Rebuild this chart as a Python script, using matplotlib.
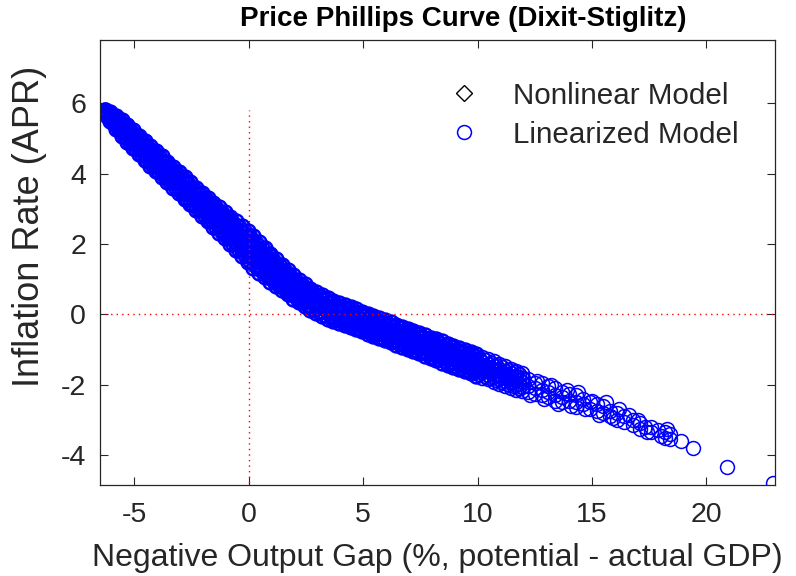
import numpy as np
import matplotlib
matplotlib.use('Agg')
import matplotlib.pyplot as plt

plt.rcParams['font.family'] = ['Liberation Sans', 'DejaVu Sans']
plt.rcParams['axes.unicode_minus'] = False

# dense part of the cloud: output gap -> five inflation readings across the band
gap_dense = [-6.30, -6.05, -5.80, -5.55, -5.30, -5.05, -4.80, -4.55, -4.30, -4.05,
             -3.80, -3.55, -3.30, -3.05, -2.80, -2.55, -2.30, -2.05, -1.80, -1.55,
             -1.30, -1.05, -0.80, -0.55, -0.30, -0.05, 0.20, 0.45, 0.70, 0.95,
             1.20, 1.45, 1.70, 1.95, 2.20, 2.45, 2.70, 2.95, 3.20, 3.45,
             3.70, 3.95, 4.20, 4.45, 4.70, 4.95, 5.20, 5.45, 5.70, 5.95,
             6.20, 6.45, 6.70, 6.95, 7.20, 7.45, 7.70, 7.95, 8.20, 8.45,
             8.70, 8.95, 9.20, 9.45, 9.70, 9.95, 10.20, 10.45, 10.70, 10.95,
             11.20, 11.45, 11.70, 11.95]
infl_dense = [
    [5.82, 5.80, 5.78, 5.76, 5.74], [5.74, 5.68, 5.62, 5.56, 5.50],
    [5.64, 5.55, 5.46, 5.37, 5.28], [5.52, 5.41, 5.30, 5.19, 5.08],
    [5.38, 5.26, 5.14, 5.02, 4.90], [5.23, 5.10, 4.98, 4.86, 4.73],
    [5.08, 4.95, 4.82, 4.69, 4.56], [4.93, 4.80, 4.66, 4.53, 4.39],
    [4.78, 4.64, 4.50, 4.36, 4.22], [4.63, 4.49, 4.35, 4.21, 4.07],
    [4.49, 4.35, 4.20, 4.06, 3.91], [4.34, 4.20, 4.05, 3.91, 3.76],
    [4.20, 4.05, 3.90, 3.75, 3.60], [4.05, 3.90, 3.75, 3.60, 3.45],
    [3.90, 3.75, 3.59, 3.44, 3.28], [3.75, 3.60, 3.44, 3.29, 3.13],
    [3.60, 3.44, 3.28, 3.12, 2.96], [3.45, 3.29, 3.13, 2.97, 2.81],
    [3.31, 3.15, 2.98, 2.82, 2.65], [3.17, 3.00, 2.83, 2.66, 2.49],
    [3.04, 2.86, 2.68, 2.50, 2.32], [2.90, 2.72, 2.53, 2.35, 2.16],
    [2.77, 2.58, 2.38, 2.19, 1.99], [2.64, 2.44, 2.23, 2.03, 1.82],
    [2.51, 2.30, 2.08, 1.87, 1.65], [2.38, 2.16, 1.93, 1.71, 1.48],
    [2.23, 2.01, 1.78, 1.56, 1.33], [2.07, 1.85, 1.63, 1.41, 1.19],
    [1.90, 1.69, 1.48, 1.27, 1.06], [1.73, 1.53, 1.33, 1.13, 0.93],
    [1.57, 1.38, 1.19, 1.00, 0.81], [1.41, 1.23, 1.05, 0.87, 0.69],
    [1.25, 1.08, 0.91, 0.74, 0.57], [1.11, 0.95, 0.78, 0.62, 0.45],
    [0.98, 0.82, 0.66, 0.50, 0.34], [0.85, 0.70, 0.54, 0.39, 0.23],
    [0.73, 0.58, 0.43, 0.28, 0.13], [0.63, 0.48, 0.33, 0.18, 0.03],
    [0.54, 0.40, 0.25, 0.11, -0.04], [0.46, 0.32, 0.17, 0.03, -0.12],
    [0.38, 0.24, 0.10, -0.04, -0.18], [0.32, 0.18, 0.04, -0.10, -0.24],
    [0.26, 0.12, -0.02, -0.16, -0.30], [0.20, 0.06, -0.08, -0.22, -0.36],
    [0.14, 0.00, -0.14, -0.28, -0.42], [0.08, -0.06, -0.20, -0.34, -0.48],
    [0.01, -0.13, -0.27, -0.41, -0.55], [-0.05, -0.19, -0.33, -0.47, -0.61],
    [-0.11, -0.25, -0.39, -0.53, -0.67], [-0.17, -0.31, -0.45, -0.59, -0.73],
    [-0.23, -0.37, -0.51, -0.65, -0.79], [-0.30, -0.44, -0.58, -0.72, -0.86],
    [-0.36, -0.50, -0.64, -0.78, -0.92], [-0.42, -0.56, -0.70, -0.84, -0.98],
    [-0.47, -0.62, -0.76, -0.91, -1.05], [-0.53, -0.68, -0.82, -0.97, -1.11],
    [-0.60, -0.75, -0.89, -1.04, -1.18], [-0.66, -0.81, -0.95, -1.10, -1.24],
    [-0.71, -0.86, -1.01, -1.16, -1.31], [-0.77, -0.92, -1.07, -1.22, -1.37],
    [-0.83, -0.98, -1.13, -1.28, -1.43], [-0.90, -1.05, -1.20, -1.35, -1.50],
    [-0.96, -1.11, -1.26, -1.41, -1.56], [-1.02, -1.17, -1.32, -1.47, -1.62],
    [-1.08, -1.23, -1.38, -1.53, -1.68], [-1.14, -1.29, -1.44, -1.59, -1.74],
    [-1.20, -1.35, -1.50, -1.65, -1.80], [-1.27, -1.42, -1.56, -1.71, -1.85],
    [-1.33, -1.48, -1.62, -1.77, -1.91], [-1.41, -1.55, -1.69, -1.83, -1.97],
    [-1.47, -1.61, -1.75, -1.89, -2.03], [-1.54, -1.68, -1.81, -1.95, -2.08],
    [-1.60, -1.74, -1.87, -2.01, -2.14], [-1.67, -1.80, -1.93, -2.06, -2.19],
]

# second set of readings lying between the columns above, four per column
gap_dense_b = [-6.175, -5.925, -5.675, -5.425, -5.175, -4.925, -4.675, -4.425, -4.175, -3.925,
               -3.675, -3.425, -3.175, -2.925, -2.675, -2.425, -2.175, -1.925, -1.675, -1.425,
               -1.175, -0.925, -0.675, -0.425, -0.175, 0.075, 0.325, 0.575, 0.825, 1.075,
               1.325, 1.575, 1.825, 2.075, 2.325, 2.575, 2.825, 3.075, 3.325, 3.575,
               3.825, 4.075, 4.325, 4.575, 4.825, 5.075, 5.325, 5.575, 5.825, 6.075,
               6.325, 6.575, 6.825, 7.075, 7.325, 7.575, 7.825, 8.075, 8.325, 8.575,
               8.825, 9.075, 9.325, 9.575, 9.825, 10.075, 10.325, 10.575, 10.825, 11.075,
               11.325, 11.575, 11.825]
infl_dense_b = [
    [5.76, 5.72, 5.68, 5.64], [5.65, 5.58, 5.50, 5.43], [5.53, 5.43, 5.33, 5.23],
    [5.39, 5.28, 5.16, 5.05], [5.24, 5.12, 5.00, 4.88], [5.09, 4.96, 4.84, 4.71],
    [4.94, 4.81, 4.67, 4.54], [4.79, 4.65, 4.51, 4.37], [4.64, 4.50, 4.36, 4.22],
    [4.49, 4.35, 4.20, 4.06], [4.34, 4.20, 4.05, 3.91], [4.20, 4.05, 3.90, 3.75],
    [4.05, 3.90, 3.75, 3.60], [3.90, 3.75, 3.59, 3.44], [3.75, 3.59, 3.44, 3.28],
    [3.60, 3.44, 3.28, 3.12], [3.45, 3.29, 3.13, 2.97], [3.30, 3.14, 2.97, 2.81],
    [3.16, 2.99, 2.82, 2.65], [3.02, 2.84, 2.67, 2.49], [2.88, 2.70, 2.51, 2.33],
    [2.74, 2.55, 2.36, 2.17], [2.61, 2.41, 2.21, 2.01], [2.47, 2.26, 2.05, 1.84],
    [2.34, 2.12, 1.89, 1.68], [2.19, 1.97, 1.74, 1.52], [2.04, 1.82, 1.59, 1.37],
    [1.88, 1.66, 1.45, 1.23], [1.71, 1.51, 1.30, 1.10], [1.55, 1.36, 1.16, 0.97],
    [1.40, 1.21, 1.03, 0.84], [1.24, 1.07, 0.89, 0.72], [1.10, 0.93, 0.76, 0.59],
    [0.96, 0.80, 0.64, 0.48], [0.84, 0.68, 0.52, 0.36], [0.71, 0.56, 0.41, 0.26],
    [0.61, 0.46, 0.31, 0.16], [0.51, 0.36, 0.22, 0.07], [0.43, 0.28, 0.14, -0.01],
    [0.35, 0.21, 0.06, -0.08], [0.28, 0.14, 0.00, -0.14], [0.22, 0.08, -0.06, -0.20],
    [0.16, 0.02, -0.12, -0.26], [0.10, -0.04, -0.18, -0.32], [0.04, -0.10, -0.24, -0.38],
    [-0.03, -0.17, -0.31, -0.45], [-0.09, -0.23, -0.37, -0.51], [-0.15, -0.29, -0.43, -0.57],
    [-0.21, -0.35, -0.49, -0.63], [-0.27, -0.41, -0.55, -0.69], [-0.34, -0.47, -0.61, -0.75],
    [-0.40, -0.54, -0.68, -0.82], [-0.46, -0.60, -0.74, -0.88], [-0.52, -0.66, -0.80, -0.94],
    [-0.57, -0.72, -0.86, -1.01], [-0.64, -0.78, -0.93, -1.07], [-0.70, -0.85, -0.99, -1.14],
    [-0.76, -0.91, -1.05, -1.20], [-0.82, -0.97, -1.12, -1.27], [-0.88, -1.03, -1.18, -1.33],
    [-0.94, -1.09, -1.24, -1.39], [-1.01, -1.16, -1.31, -1.46], [-1.07, -1.22, -1.37, -1.52],
    [-1.13, -1.28, -1.43, -1.58], [-1.19, -1.34, -1.49, -1.64], [-1.25, -1.40, -1.55, -1.70],
    [-1.31, -1.46, -1.60, -1.75], [-1.37, -1.52, -1.66, -1.81], [-1.44, -1.58, -1.73, -1.87],
    [-1.51, -1.65, -1.79, -1.93], [-1.57, -1.71, -1.85, -1.99], [-1.64, -1.77, -1.91, -2.04],
    [-1.70, -1.83, -1.97, -2.10],
]

# sparse tail of the cloud
gap_tail = [12.0, 12.2, 12.2, 12.2, 12.3, 12.5, 12.5, 12.5, 12.6, 12.8, 12.8, 12.8, 12.9,
            13.1, 13.1, 13.1, 13.2, 13.4, 13.4, 13.4, 13.5, 13.7, 13.7, 13.7, 13.9,
            14.0, 14.0, 14.1, 14.3, 14.3, 14.3, 14.4, 14.6, 14.6, 14.7, 14.9, 14.9,
            15.0, 15.2, 15.2, 15.3, 15.5, 15.5, 15.6, 15.8, 15.8, 15.9, 16.1, 16.1, 16.2,
            16.4, 16.4, 16.6, 16.8, 16.8, 17.0, 17.1, 17.1, 17.3, 17.4, 17.6, 17.6, 17.9,
            18.0, 18.2, 18.2, 18.3, 18.4, 18.4, 18.9, 19.4, 20.9, 22.9]
infl_tail = [-1.80, -1.85, -2.05, -2.20, -2.30, -1.95, -2.10, -2.25, -1.90, -1.95, -2.15, -2.30, -2.40,
             -2.05, -2.20, -2.35, -2.00, -2.10, -2.30, -2.45, -2.55, -2.20, -2.35, -2.50, -2.15,
             -2.25, -2.45, -2.60, -2.30, -2.50, -2.62, -2.20, -2.40, -2.55, -2.70, -2.50, -2.70,
             -2.45, -2.55, -2.75, -2.85, -2.60, -2.80, -2.50, -2.75, -2.90, -2.95, -2.80, -3.00, -2.70,
             -2.90, -3.05, -2.85, -3.00, -3.15, -3.00, -3.10, -3.25, -3.20, -3.35, -3.20, -3.35, -3.30,
             -3.45, -3.35, -3.50, -3.25, -3.40, -3.55, -3.60, -3.80, -4.35, -4.80]

# nonlinear model series: not visible in the figure, legend entry only
gap_nonlin = []
infl_nonlin = []

gap_core = np.concatenate([np.repeat(gap_dense, 5), np.repeat(gap_dense_b, 4)])
infl_core = np.concatenate([np.ravel(infl_dense), np.ravel(infl_dense_b)])
gap_all = np.concatenate([gap_core, gap_tail])
infl_all = np.concatenate([infl_core, infl_tail])
solid = gap_core < 10

blue = (0, 0, 1)
dark = '#262626'
fig = plt.figure(figsize=(7.96, 5.76), dpi=100)
ax = fig.add_axes([0.1256, 0.158, 0.848, 0.7726])

ax.plot(gap_nonlin, infl_nonlin, 'D', mfc='none', mec='k', ms=8, mew=1.0,
        ls='none', label='Nonlinear Model')
ax.plot(gap_tail, infl_tail, 'o', mfc='none', mec=blue, ms=10, mew=1.1,
        ls='none', label='Linearized Model')
# where circles pile up the cloud reads as a solid band
ax.plot(gap_core[solid], infl_core[solid], 'o', mfc='none', mec=blue, ms=10, mew=1.8, ls='none')
ax.plot(gap_core[~solid], infl_core[~solid], 'o', mfc='none', mec=blue, ms=10, mew=1.2, ls='none')

dots = (0, (1, 3))
ax.plot([gap_all.min(), gap_all.max()], [0, 0], color='r', ls=dots, lw=1.0, zorder=3)
ax.plot([0, 0], [infl_all.min(), infl_all.max()], color='r', ls=dots, lw=1.0, zorder=3)

ax.set_xlim(-6.5, 23)
ax.set_ylim(-4.85, 7.8)
ax.set_xticks([-5, 0, 5, 10, 15, 20])
ax.set_yticks([-4, -2, 0, 2, 4, 6])
ax.tick_params(direction='in', length=6, width=0.8, colors=dark,
               labelsize=20.5, top=True, right=True)
ax.tick_params(axis='x', pad=12)
ax.tick_params(axis='y', pad=10)
for s in ax.spines.values():
    s.set_color(dark)
    s.set_linewidth(0.9)

ax.set_xlabel('Negative Output Gap (%, potential - actual GDP)', fontsize=23, color=dark)
ax.xaxis.set_label_coords(0.5, -0.13)
ax.set_ylabel('Inflation Rate (APR)', fontsize=26, color=dark)
ax.yaxis.set_label_coords(-0.078, 0.582)
ax.text(0.538, 1.047, 'Price Phillips Curve (Dixit-Stiglitz)', transform=ax.transAxes,
        ha='center', va='center', fontsize=20, fontweight='bold', color='k')

ax.legend(loc='upper right', bbox_to_anchor=(0.946, 0.906), frameon=False,
          fontsize=21.3, handlelength=1.0, handletextpad=1.16, labelspacing=0.37,
          borderpad=0, borderaxespad=0, labelcolor=dark)

fig.savefig('out.png', dpi=100)
